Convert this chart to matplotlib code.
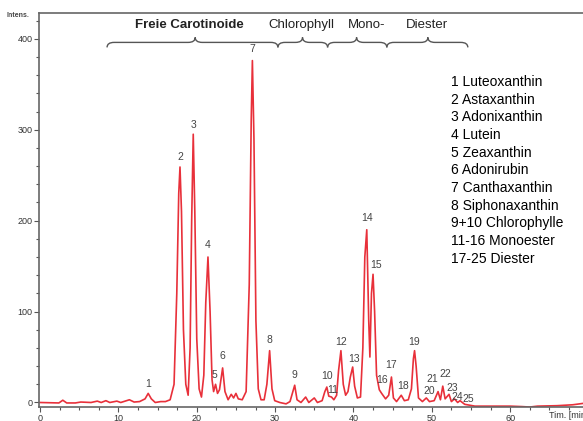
import matplotlib.pyplot as plt
from matplotlib.path import Path
from matplotlib.patches import PathPatch
from matplotlib.ticker import MultipleLocator

plt.rcParams['font.family'] = ['Liberation Sans', 'DejaVu Sans']

# chromatogram trace: retention time [min], intensity
time = [
    0.0, 2.4, 2.9, 3.4, 4.5, 5.2, 6.5, 7.3, 7.8, 8.4, 8.9, 9.8, 10.3, 11.4,
    12.0, 12.7, 13.4, 13.8, 14.2, 14.7, 15.4, 16.0, 16.6, 17.1, 17.45, 17.7,
    17.86, 18.05, 18.3, 18.6, 18.9, 19.15, 19.35, 19.55, 19.75, 20.0, 20.3,
    20.6, 20.9, 21.15, 21.43, 21.7, 21.95, 22.15, 22.4, 22.65, 22.9, 23.3,
    23.6, 24.0, 24.4, 24.7, 25.0, 25.3, 25.8, 26.3, 26.7, 26.95, 27.1, 27.3,
    27.55, 27.85, 28.2, 28.6, 28.95, 29.3, 29.6, 29.95, 30.6, 31.4, 31.9,
    32.2, 32.5, 32.8, 33.3, 33.9, 34.3, 35.0, 35.4, 36.0, 36.35, 36.6, 36.85,
    37.2, 37.5, 37.85, 38.1, 38.4, 38.7, 39.0, 39.3, 39.6, 39.9, 40.15, 40.5,
    40.9, 41.2, 41.45, 41.7, 41.95, 42.1, 42.3, 42.5, 42.7, 42.95, 43.3,
    43.6, 44.1, 44.5, 44.85, 45.1, 45.5, 46.1, 46.5, 47.0, 47.4, 47.65, 47.8,
    48.0, 48.3, 48.8, 49.3, 49.7, 50.3, 50.8, 51.1, 51.4, 51.7, 52.2, 52.5,
    52.9, 53.3, 53.6, 54.2, 55.5, 60.0, 61.5, 62.5, 63.5, 66.0, 68.0, 69.3,
]
intens = [
    0, -0.5, 2.5, -0.5, -0.5, 0.5, 0, 1.5, 0, 2, 0, 1.5, 0, 3,
    0.5, 1, 4, 10, 4, 0, 1, 1, 3, 20, 120, 230,
    259, 210, 80, 20, 8, 60, 200, 295, 210, 70, 15,
    6, 30, 110, 160, 100, 25, 12, 20, 10, 14, 38,
    12, 3, 9, 5, 10, 4, 3, 12, 130, 310, 376, 290,
    90, 15, 3, 3, 20, 57, 15, 2, 0, -1.5, 1,
    10, 19, 3, 0, 6, 0, 5, 0, 2, 12, 17, 7,
    6, 3, 8, 35, 57, 20, 8, 12, 28, 39, 18, 5,
    6, 60, 160, 190, 90, 50, 120, 141, 100, 30, 14,
    10, 4, 8, 28, 5, 1, 8, 2, 3, 15, 48, 57,
    40, 5, 1, 5, 1, 2, 12, 3, 18, 4, 9, 1,
    4, 0, 2, -2, -4, -4, -4.5, -5, -4, -3.5, -2.5, -1,
]

# peak numbering: retention time and apex height
peak_ids = ['1', '2', '3', '4', '5', '6', '7', '8', '9', '10', '11', '12', '13',
            '14', '15', '16', '17', '18', '19', '20', '21', '22', '23', '24', '25']
peak_t = [13.8, 17.86, 19.55, 21.43, 22.4, 23.3, 27.1, 29.3, 32.5, 36.6, 37.2,
          38.4, 39.9, 41.7, 42.5, 43.3, 44.85, 46.1, 47.8, 49.3, 50.8, 51.4,
          52.2, 52.9, 53.6]
peak_h = [10, 259, 295, 160, 20, 38, 376, 57, 19, 17, 6, 57, 39, 190, 141, 12,
          28, 8, 57, 5, 12, 18, 9, 4, 2]
# label offsets from the apex, points
label_dx = [0, 0, 0, 0, -1, 0, 0, 0, 0, 0, 1, 0, 1, 0, 2, 2, 0, 1, 0, 2, -4,
            2, 2, 2, 6]
label_dy = [7, 7, 7, 9, 6.5, 8.5, 8.5, 7.5, 7, 8, 5, 6.5, 5.5, 8.5, 7, 8, 9,
            7, 6.5, 5, 9, 8.5, 4.5, 1.5, 1.2]

# groups shown with braces above the trace: start, end, tip [min]
group_names = ['Freie Carotinoide', 'Chlorophyll', 'Mono-', 'Diester']
group_start = [8.55, 30.36, 36.7, 44.26]
group_end = [30.36, 36.7, 44.26, 54.6]
group_tip = [19.8, 33.5, 40.4, 49.5]
group_text_t = [19.0, 33.4, 41.7, 49.4]

legend_lines = ['1 Luteoxanthin', '2 Astaxanthin', '3 Adonixanthin', '4 Lutein',
                '5 Zeaxanthin', '6 Adonirubin', '7 Canthaxanthin',
                '8 Siphonaxanthin', '9+10 Chlorophylle', '11-16 Monoester',
                '17-25 Diester']

x_ticks = [0, 10, 20, 30, 40, 50, 60]
y_ticks = [0, 100, 200, 300, 400]


def brace(ax, x0, x1, xm, y, h, d):
    """Curly brace opening downwards, tip pointing up at xm."""
    verts = [
        (x0, y - h), (x0, y), (x0 + d, y),
        (xm - d, y), (xm, y), (xm, y + h),
        (xm, y), (xm + d, y),
        (x1 - d, y), (x1, y), (x1, y - h),
    ]
    codes = [Path.MOVETO, Path.CURVE3, Path.CURVE3,
             Path.LINETO, Path.CURVE3, Path.CURVE3,
             Path.CURVE3, Path.CURVE3,
             Path.LINETO, Path.CURVE3, Path.CURVE3]
    ax.add_patch(PathPatch(Path(verts, codes), fill=False, lw=1.0,
                           ec='#555555', clip_on=False))


fig = plt.figure(figsize=(5.83, 4.21), dpi=100)
ax = fig.add_axes([0.0674, 0.0325, 0.9326, 0.9359])

ax.plot(time, intens, color='#e8303a', lw=1.2)

for pid, t, h, dx, dy in zip(peak_ids, peak_t, peak_h, label_dx, label_dy):
    ax.annotate(pid, (t, h), xytext=(dx, dy), textcoords='offset points',
                ha='center', va='center', fontsize=7.5, color='#444444')

for name, x0, x1, xm, xt in zip(group_names, group_start, group_end,
                                group_tip, group_text_t):
    brace(ax, x0, x1, xm, 396, 5.5, 0.9)
    ax.text(xt, 415, name, ha='center', va='center', fontsize=9.5,
            color='#222222',
            fontweight='bold' if name == 'Freie Carotinoide' else 'normal')

for i, line in enumerate(legend_lines):
    ax.text(0.757, 0.826 - i * 0.0449, line, transform=ax.transAxes,
            ha='left', va='center', fontsize=10, color='black')

ax.set_xlim(-0.1, 69.3)
ax.set_ylim(-5.3, 428)
ax.set_xticks(x_ticks)
ax.set_yticks(y_ticks)
ax.xaxis.set_minor_locator(MultipleLocator(2.5))
ax.yaxis.set_minor_locator(MultipleLocator(20))
ax.tick_params(which='both', direction='out', colors='#555555',
               labelcolor='#333333', labelsize=6.5, width=0.8)
ax.tick_params(which='major', length=3.5, pad=1.5)
ax.tick_params(which='minor', length=2)
ax.spines['right'].set_visible(False)
for side in ['left', 'top', 'bottom']:
    ax.spines[side].set_color('#666666')
    ax.spines[side].set_linewidth(1.2)

fig.text(0.012, 0.962, 'Intens.', fontsize=5, fontweight='bold',
         color='#444444', ha='left', va='center')
fig.text(0.975, 0.012, 'Tim. [min]', fontsize=6.5, color='#333333',
         ha='center', va='center')

fig.savefig('out.png', dpi=100)
